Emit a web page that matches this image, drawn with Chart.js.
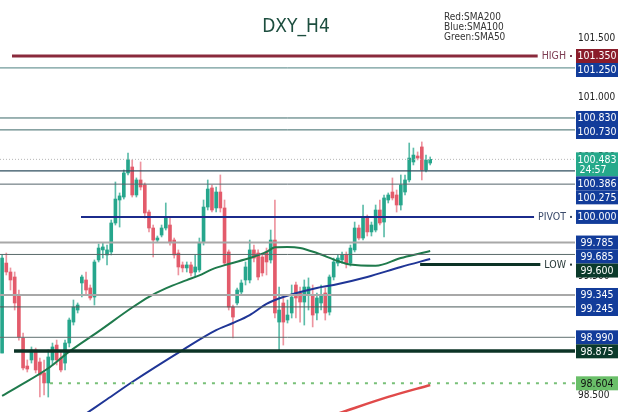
<!DOCTYPE html>
<html><head><meta charset="utf-8">
<script src="https://cdn.jsdelivr.net/npm/chart.js@4.4.0/dist/chart.umd.min.js"></script>
<style>html,body{margin:0;padding:0;background:#fff;overflow:hidden}</style>
</head><body>
<canvas id="c" width="625" height="412"></canvas>
<script>
const FONT = "'DejaVu Sans Condensed','Liberation Sans Narrow','DejaVu Sans',sans-serif";
const chartTitle = 'DXY_H4';
const legendLines = ['Red:SMA200', 'Blue:SMA100', 'Green:SMA50'];
const timerText = '24:57';

const candleOpen = [98.858,99.613,99.538,99.496,99.345,98.984,98.749,98.800,98.884,98.783,
98.691,98.607,98.800,98.925,98.816,98.774,98.942,99.118,99.219,99.446,
99.471,99.404,99.328,99.639,99.723,99.681,99.706,99.949,100.142,100.167,
100.369,100.419,100.184,100.310,100.268,100.041,99.907,99.806,99.848,99.907,
99.932,99.806,99.697,99.597,99.572,99.597,99.538,99.555,99.790,100.083,
100.243,100.075,100.209,100.075,99.706,99.244,99.278,99.370,99.471,99.471,
99.723,99.697,99.664,99.706,99.639,99.806,99.118,99.278,99.135,99.194,
99.429,99.362,99.286,99.345,99.345,99.194,99.278,99.362,99.202,99.496,
99.613,99.639,99.681,99.613,99.723,99.907,99.823,99.991,99.874,99.890,
100.058,99.957,100.142,100.209,100.184,100.100,100.209,100.310,100.461,100.511,
100.587,100.394,100.452];
const candleHigh = [99.681,99.697,99.572,99.538,99.387,99.026,98.800,98.909,98.900,98.816,
98.800,98.884,98.942,98.967,98.867,98.967,99.152,99.303,99.278,99.513,
99.538,99.429,99.639,99.773,99.781,99.764,99.974,100.293,100.201,100.394,
100.536,100.478,100.327,100.461,100.285,100.058,99.932,99.840,99.932,100.117,
99.991,99.823,99.723,99.622,99.622,99.622,99.681,99.823,100.142,100.310,
100.268,100.251,100.352,100.142,99.723,99.261,99.404,99.471,99.622,99.806,
99.764,99.723,99.681,99.739,99.890,100.142,99.412,99.320,99.303,99.429,
99.454,99.412,99.471,99.488,99.429,99.362,99.429,99.404,99.513,99.655,
99.681,99.706,99.706,99.764,99.957,99.932,100.100,100.016,99.957,100.100,
100.142,100.184,100.201,100.327,100.226,100.352,100.352,100.620,100.578,100.545,
100.629,100.519,100.503];
const candleLow = [98.858,99.513,99.387,99.219,98.967,98.716,98.699,98.774,98.691,98.489,
98.506,98.489,98.758,98.758,98.699,98.716,98.909,99.093,99.194,99.328,
99.345,99.303,99.261,99.622,99.655,99.597,99.681,99.932,99.915,100.150,
100.352,100.167,100.167,100.226,99.991,99.874,99.664,99.790,99.832,99.890,
99.764,99.655,99.513,99.538,99.538,99.504,99.496,99.538,99.764,100.058,
100.041,100.041,100.041,99.597,99.219,98.984,99.261,99.345,99.429,99.446,
99.622,99.471,99.504,99.513,99.613,99.152,98.884,98.925,99.110,99.152,
99.152,99.118,99.093,99.219,99.077,99.135,99.219,99.135,99.177,99.471,
99.588,99.613,99.572,99.588,99.706,99.806,99.806,99.840,99.840,99.874,
99.932,99.832,100.117,100.142,100.041,100.058,100.184,100.293,100.436,100.478,
100.310,100.377,100.436];
const candleClose = [99.655,99.538,99.471,99.278,98.993,98.733,98.724,98.884,98.716,98.674,
98.607,98.825,98.909,98.800,98.716,98.942,99.135,99.244,99.261,99.496,
99.387,99.320,99.622,99.739,99.748,99.723,99.949,100.150,100.176,100.369,
100.478,100.184,100.310,100.251,100.033,99.907,99.806,99.823,99.907,99.999,
99.790,99.681,99.580,99.572,99.597,99.530,99.580,99.781,100.083,100.234,
100.058,100.209,100.075,99.613,99.244,99.160,99.387,99.446,99.580,99.723,
99.655,99.496,99.530,99.622,99.806,99.194,99.219,99.118,99.177,99.328,
99.320,99.286,99.412,99.412,99.177,99.320,99.345,99.194,99.496,99.622,
99.655,99.681,99.613,99.739,99.907,99.823,99.991,99.874,99.932,100.058,
99.949,100.159,100.184,100.159,100.100,100.268,100.310,100.494,100.519,100.494,
100.394,100.478,100.483];
const futureSlots = 34;

// moving averages: [candle index, value]
const sma50Readings = [[0,98.498],[4,98.58],[11,98.73],[16,98.87],[23,99.04],[31,99.24],[35,99.33],[39,99.40],[44,99.47],[47,99.51],[50,99.56],[54,99.605],[59,99.655],[63,99.706],[65,99.745],[68,99.748],[71,99.74],[75,99.697],[80,99.63],[83,99.60],[89,99.59],[95,99.655],[100,99.697],[102,99.714]];
const sma100Readings = [[20,98.35],[25,98.47],[31,98.615],[43,98.883],[51,99.05],[55,99.11],[59,99.177],[63,99.27],[67,99.328],[75,99.404],[79,99.429],[87,99.496],[95,99.58],[102,99.647]];
const sma200Readings = [[80,98.35],[92,98.49],[102,98.59]];

const tickValues = [98.5, 99.0, 99.5, 100.0, 100.5, 101.0, 101.5];
const yMin = 98.3634, yMax = 101.8198;

const levelValues = [101.35,101.25,100.83,100.73,100.483,100.386,100.275,100.0,99.785,99.685,99.6,99.345,99.245,98.99,98.875,98.604];
const levelTags   = ['HIGH','','','','','','','PIVOT','','','LOW','','','','',''];

// styles (not data)
const BLUE = '#123c9a', DKG = '#0b3a2b';
const levelStyles = [
 {c:'#8a2a3c', w:3, from:2.36, box:'#8a1c2b', tag:'#7d3c52'},
 {c:'#4d8080', w:1, box:BLUE},
 {c:'#3b6868', w:1, box:BLUE},
 {c:'#3b6868', w:1, box:BLUE},
 {c:'#b5b5b5', w:1, dash:[1,2], box:'#26a98b', two:true},
 {c:'#2f4f5f', w:1.3, box:BLUE},
 {c:'#55656c', w:1, box:BLUE},
 {c:'#1b2b8c', w:2, from:18.8, box:BLUE, tag:'#3a4a6a'},
 {c:'#a8a8a8', w:2, box:BLUE},
 {c:'#5a6a6a', w:1, box:BLUE},
 {c:'#0c3326', w:3, from:99.6, box:DKG, tag:'#2a3a3a'},
 {c:'#a8a8a8', w:2, box:BLUE},
 {c:'#4a5a5a', w:1, box:BLUE},
 {c:'#607070', w:1, box:BLUE},
 {c:'#0c3326', w:3.5, from:2.84, box:DKG},
 {c:'#78c078', w:2, dash:[3,6], from:11.4, box:'#6abf69', txt:'#111'}
];

const N = candleOpen.length;
const categories = [];
for (let i = 0; i < N + futureSlots; i++) categories.push(i < N ? 'bar ' + (i + 1) : 'next ' + (i - N + 1));
function fullSeries(readings) {
  const arr = new Array(N).fill(null);
  readings.forEach(([i, v]) => { arr[i] = v; });
  return arr;
}
const isUp = candleOpen.map((o, i) => candleClose[i] >= o);
const bodyColors = isUp.map(u => u ? '#26a68c' : '#e35b6b');
const wickColors = isUp.map(u => u ? 'rgba(38,166,140,0.75)' : 'rgba(227,91,107,0.65)');

const overlay = {
  id: 'overlay',
  afterDatasetsDraw(chart) {
    const {ctx, chartArea: a, scales: {x, y}} = chart;
    ctx.save();
    ctx.font = '10.5px ' + FONT;
    levelValues.forEach((v, k) => {
      const s = levelStyles[k];
      const py = y.getPixelForValue(v);
      const x0 = s.from != null ? x.getPixelForValue(s.from) : a.left;
      let x1 = a.right;
      if (levelTags[k]) {
        const tw = ctx.measureText(levelTags[k]).width;
        const tx = a.right - 9;
        x1 = tx - tw - 4;
        ctx.fillStyle = s.tag; ctx.textAlign = 'right'; ctx.textBaseline = 'middle';
        ctx.fillText(levelTags[k], tx, py + 0.5);
        ctx.fillRect(a.right - 5, py - 1, 2, 2);
      }
      ctx.beginPath();
      ctx.strokeStyle = s.c; ctx.lineWidth = s.w;
      ctx.setLineDash(s.dash || []);
      ctx.moveTo(x0, py); ctx.lineTo(x1, py); ctx.stroke();
    });
    ctx.restore();
  },
  afterDraw(chart) {
    const {ctx, chartArea: a, scales: {y}} = chart;
    ctx.save();
    let prevBottom = -1e9;
    const bx = a.right + 1, bw = 42, cx = bx + bw / 2;
    ctx.font = '10.5px ' + FONT;
    ctx.textAlign = 'center'; ctx.textBaseline = 'middle';
    levelValues.forEach((v, k) => {
      const s = levelStyles[k];
      const py = y.getPixelForValue(v);
      const h = s.two ? 24 : 14;
      const top = Math.max(py - 7, prevBottom);
      prevBottom = top + h;
      ctx.fillStyle = s.box;
      ctx.fillRect(bx, top, bw, h);
      ctx.fillStyle = s.txt || '#fff';
      ctx.fillText(v.toFixed(3), cx, top + 7.5);
      if (s.two) ctx.fillText(timerText, cx - 4, top + 18);
    });
    ctx.fillStyle = '#1d4e3f';
    ctx.font = '19px ' + FONT;
    ctx.textAlign = 'center';
    ctx.fillText(chartTitle, 296, 27);
    ctx.fillStyle = '#333';
    ctx.font = '10px ' + FONT;
    ctx.textAlign = 'left';
    legendLines.forEach((t, i) => ctx.fillText(t, 444, 17 + i * 10));
    ctx.restore();
  }
};

new Chart(document.getElementById('c'), {
  type: 'bar',
  data: {
    labels: categories,
    datasets: [
      {type: 'line', label: 'SMA50', data: fullSeries(sma50Readings), borderColor: '#1f7a4c', borderWidth: 2, pointRadius: 0, spanGaps: true, cubicInterpolationMode: 'monotone', order: 1},
      {type: 'line', label: 'SMA100', data: fullSeries(sma100Readings), borderColor: '#1f3596', borderWidth: 2, pointRadius: 0, spanGaps: true, cubicInterpolationMode: 'monotone', order: 1},
      {type: 'line', label: 'SMA200', data: fullSeries(sma200Readings), borderColor: '#e04a4a', borderWidth: 2.5, pointRadius: 0, spanGaps: true, cubicInterpolationMode: 'monotone', order: 1},
      {label: 'wick', data: candleLow.map((l, i) => [l, candleHigh[i]]), backgroundColor: wickColors, barThickness: 1, grouped: false, order: 3},
      {label: 'body', data: candleOpen.map((o, i) => [o, candleClose[i]]), backgroundColor: bodyColors, barThickness: 3, minBarLength: 1, grouped: false, order: 2}
    ]
  },
  options: {
    responsive: false, animation: false, devicePixelRatio: 1,
    layout: {padding: 0, autoPadding: false},
    plugins: {legend: {display: false}, tooltip: {enabled: false}, title: {display: false}},
    scales: {
      x: {display: false, offset: true, grid: {display: false}},
      y: {
        position: 'right', min: yMin, max: yMax,
        afterFit(s) { s.width = 50; s.paddingTop = 0; s.paddingBottom = 0; },
        afterBuildTicks(s) { s.ticks = tickValues.map(v => ({value: v})); },
        ticks: {callback: v => Number(v).toFixed(3), color: '#222', padding: 3, font: {family: FONT, size: 10}},
        grid: {display: false, drawTicks: false},
        border: {display: false}
      }
    }
  },
  plugins: [overlay]
});
</script>
</body></html>
